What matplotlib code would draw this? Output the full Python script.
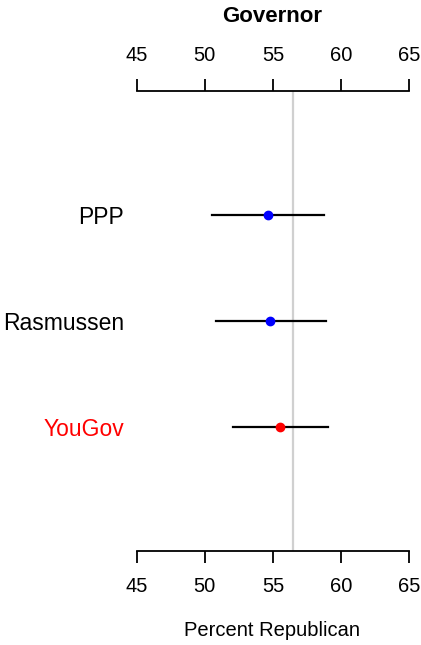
import matplotlib
matplotlib.use("Agg")
import matplotlib.pyplot as plt

# poll estimates (percent republican) with interval ends
pollsters = ["PPP", "Rasmussen", "YouGov"]
estimate = [54.6, 54.8, 55.55]
lower = [50.5, 50.8, 52.05]
upper = [58.75, 58.9, 59.05]
point_colors = ["#0000FF", "#0000FF", "#FF0000"]
label_colors = ["black", "black", "#FF0000"]
ypos = [4, 3, 2]
actual = 56.45
xticks = [45, 50, 55, 60, 65]

plt.rcParams['font.family'] = ['Liberation Sans', 'DejaVu Sans']

W, H = 421, 645
fig = plt.figure(figsize=(W / 100, H / 100), dpi=100)
ax = fig.add_axes([136.7 / W, (H - 551) / H, 272.6 / W, 460 / H])

ax.axvline(actual, color="#D0D0D0", lw=1.6, zorder=1)
for y, e, lo, hi, c in zip(ypos, estimate, lower, upper, point_colors):
    ax.plot([lo, hi], [y, y], color="black", lw=1.6, zorder=2)
    ax.plot(e, y, "o", color=c, ms=6, mec=c, zorder=3)

ax.set_xlim(45, 65)
ax.set_ylim(0.84, 5.16)
ax.set_xticks(xticks)
ax.set_xticklabels([str(t) for t in xticks])
ax.set_yticks(ypos)
ax.set_yticklabels(pollsters)
for lab, c in zip(ax.get_yticklabels(), label_colors):
    lab.set_color(c)

ax.tick_params(axis="x", which="both", top=True, labeltop=True, bottom=True,
               labelbottom=True, direction="out", length=8.5, width=1.3,
               pad=10, labelsize=14.5)
ax.tick_params(axis="y", length=0, pad=9, labelsize=16.5)
for s in ["left", "right"]:
    ax.spines[s].set_visible(False)
for s in ["top", "bottom"]:
    ax.spines[s].set_linewidth(1.3)

fig.text(272.5 / W, 1 - 16.5 / H, "Governor", ha="center", va="center",
         fontsize=16, fontweight="bold")
fig.text(272.5 / W, 1 - 631 / H, "Percent Republican", ha="center",
         va="center", fontsize=14.5)

fig.savefig("out.png", dpi=100, facecolor="white")
